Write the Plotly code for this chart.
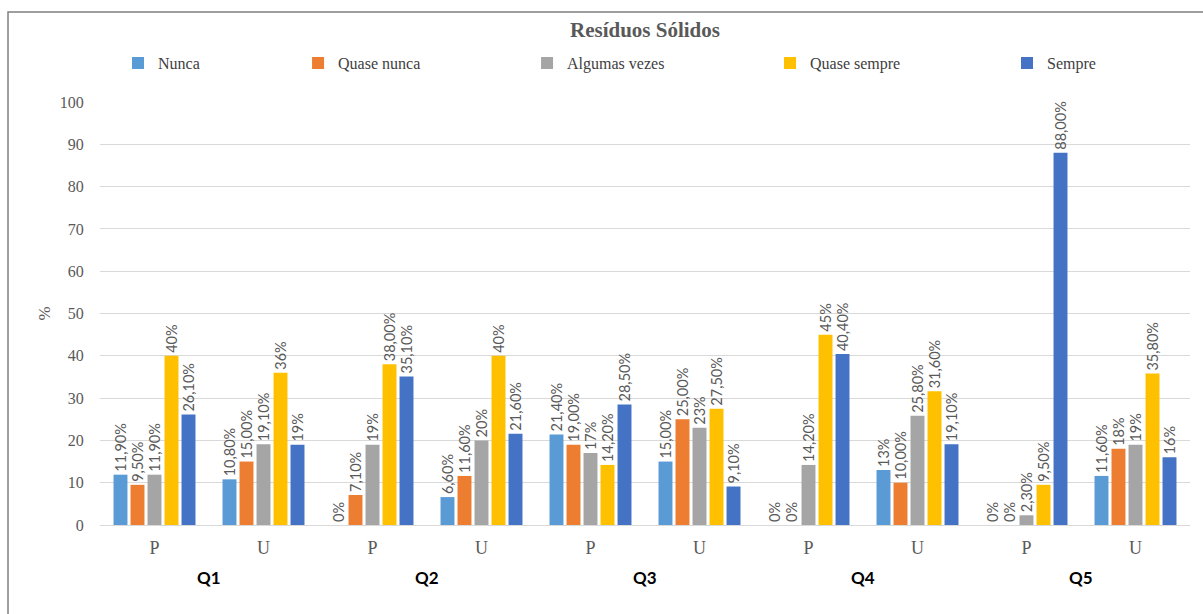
import plotly.graph_objects as go

# Questions and respondent groups
questions = ["Q1", "Q2", "Q3", "Q4", "Q5"]
groups = ["P", "U"]
categories = [f"{q} {g}" for q in questions for g in groups]

series_names = ["Nunca", "Quase nunca", "Algumas vezes", "Quase sempre", "Sempre"]
series_colors = ["#5B9BD5", "#ED7D31", "#A5A5A5", "#FFC000", "#4472C4"]

# Percentages per answer, in order Q1-P, Q1-U, Q2-P, ... Q5-U
nunca = [11.9, 10.8, 0, 6.6, 21.4, 15.0, 0, 13, 0, 11.6]
quase_nunca = [9.5, 15.0, 7.1, 11.6, 19.0, 25.0, 0, 10.0, 0, 18]
algumas_vezes = [11.9, 19.1, 19, 20, 17, 23, 14.2, 25.8, 2.3, 19]
quase_sempre = [40, 36, 38.0, 40, 14.2, 27.5, 45, 31.6, 9.5, 35.8]
sempre = [26.1, 19, 35.1, 21.6, 28.5, 9.1, 40.4, 19.1, 88.0, 16]

# Number of decimals shown in each data label
dec_nunca = [2, 2, 0, 2, 2, 2, 0, 0, 0, 2]
dec_quase_nunca = [2, 2, 2, 2, 2, 2, 0, 2, 0, 0]
dec_algumas_vezes = [2, 2, 0, 0, 0, 0, 2, 2, 2, 0]
dec_quase_sempre = [0, 0, 2, 0, 2, 2, 0, 2, 2, 2]
dec_sempre = [2, 0, 2, 2, 2, 2, 2, 2, 2, 0]

values = [nunca, quase_nunca, algumas_vezes, quase_sempre, sempre]
decimals = [dec_nunca, dec_quase_nunca, dec_algumas_vezes, dec_quase_sempre, dec_sempre]


def fmt(v, d):
    return f"{v:.{d}f}".replace(".", ",") + "%"


# x position of each legend entry (paper coordinates)
legend_x = [0.0165, 0.1817, 0.3918, 0.6147, 0.8321]
legend_y = 1.092

SERIF = "Liberation Serif, Times New Roman, serif"
SANS = "Lato, Liberation Sans, sans-serif"

fig = go.Figure()
for i, (name, color, vals, decs) in enumerate(zip(series_names, series_colors, values, decimals)):
    lg = "legend" if i == 0 else f"legend{i + 1}"
    fig.add_trace(go.Bar(
        name=name,
        x=categories,
        y=vals,
        marker=dict(color=color, line=dict(width=0)),
        text=[fmt(v, d) for v, d in zip(vals, decs)],
        textposition="outside",
        textangle=-90,
        textfont=dict(family=SANS, size=14.5, color="#595959"),
        cliponaxis=False,
        constraintext="none",
        showlegend=True,
        legend=lg,
    ))

legend_style = dict(
    orientation="h",
    y=legend_y,
    yanchor="middle",
    xanchor="left",
    bgcolor="rgba(0,0,0,0)",
    font=dict(family=SERIF, size=16, color="#404040"),
    itemwidth=30,
)
legends = {}
for i, x in enumerate(legend_x):
    key = "legend" if i == 0 else f"legend{i + 1}"
    legends[key] = dict(legend_style, x=x)

# Question labels centred under each P/U pair
annotations = []
for k, q in enumerate(questions):
    annotations.append(dict(
        x=2 * k + 0.5, xref="x", y=-0.125, yref="paper",
        text=f"<b>{q}</b>", showarrow=False,
        font=dict(family=SANS, size=17, color="#000000"),
        xanchor="center", yanchor="middle",
    ))

# Chart frame (left and top edges)
shapes = [dict(
    type="path", xref="paper", yref="paper",
    path="M -0.0844,-0.22 L -0.0844,1.2128 L 1.02,1.2128",
    line=dict(color="#7F7F7F", width=1.5),
)]

fig.update_layout(
    width=1203,
    height=614,
    margin=dict(l=100, r=13, t=102, b=89),
    paper_bgcolor="white",
    plot_bgcolor="white",
    barmode="group",
    bargap=0.22,
    bargroupgap=0.18,
    showlegend=True,
    title=dict(
        text="<b>Resíduos Sólidos</b>",
        x=0.5, xref="paper", xanchor="center",
        y=0.951, yref="container", yanchor="middle",
        font=dict(family=SERIF, size=21, color="#595959"),
    ),
    xaxis=dict(
        type="category",
        tickmode="array",
        tickvals=categories,
        ticktext=[g for q in questions for g in groups],
        tickfont=dict(family=SERIF, size=18, color="#595959"),
        ticks="outside", ticklen=6, tickcolor="rgba(0,0,0,0)",
        showgrid=False,
        showline=True, linecolor="#D9D9D9", linewidth=1,
    ),
    yaxis=dict(
        range=[0, 100],
        dtick=10,
        tickfont=dict(family=SERIF, size=16, color="#595959"),
        ticks="outside", ticklen=12, tickcolor="rgba(0,0,0,0)",
        showgrid=True, gridcolor="#D9D9D9", gridwidth=1,
        zeroline=False,
        title=dict(text="%", font=dict(family=SERIF, size=17, color="#595959"), standoff=4),
    ),
    annotations=annotations,
    shapes=shapes,
    **legends,
)

fig.write_html("out.html")
